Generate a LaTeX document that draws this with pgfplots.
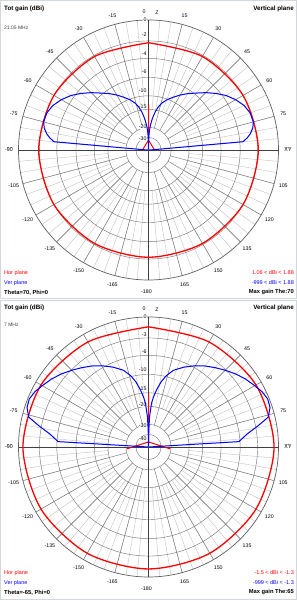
\documentclass[border=0pt]{standalone}
\usepackage{pgfplots}
\pgfplotsset{compat=1.18}
\usepackage{pgfplotstable}
\usepackage{fontspec}
\setmainfont{Liberation Sans}
\definecolor{ringc}{RGB}{120,120,120}
\definecolor{spokec}{RGB}{195,195,195}
\definecolor{redc}{RGB}{255,0,0}
\definecolor{bluec}{RGB}{0,0,255}
\definecolor{framec}{RGB}{210,215,220}

% theta (deg from Z axis, clockwise) and gain on the ARRL log scale (dB)
\pgfplotstableread{
th db
-90 -80
-88 -80
-86.5 -55
-85 -5.4
-83 -4.6
-81 -4.0
-78 -3.4
-75 -3.1
-70 -3.15
-65 -3.6
-60 -4.4
-55 -5.4
-50 -6.7
-45 -8.1
-40 -9.6
-35 -10.9
-30 -12.3
-25 -13.8
-20 -15.3
-16 -16.8
-13 -18.4
-10 -20.8
-8 -23
-6.5 -25
-5 -27.5
-4 -29.5
-3 -32
-2 -36
-1 -45
0 -80
1 -45
2 -36
3 -32
4 -29.5
5 -27.5
6.5 -25
8 -23
10 -20.8
13 -18.4
16 -16.8
20 -15.3
25 -13.8
30 -12.3
35 -10.9
40 -9.6
45 -8.1
50 -6.7
55 -5.4
60 -4.4
65 -3.6
70 -3.15
75 -3.1
78 -3.4
81 -4.0
83 -4.6
85 -5.4
86.5 -55
88 -80
90 -80
}\verTop

\pgfplotstableread{
th db
0 -3.3
30 -3.2
60 -3.0
90 -2.9
120 -3.0
150 -3.2
180 -3.3
210 -3.2
240 -3.0
270 -2.9
300 -3.0
330 -3.2
360 -3.3
}\horTop

\pgfplotstableread{
th db
-90 -52.8
0 -44
0 -18.2
0 -44
90 -52.8
}\horTopC

\pgfplotstableread{
th db
-90 -80
-88 -80
-86.6 -55
-86.6 -6.2
-82.5 -4.6
-79 -2.6
-76 -0.9
-72 -0.3
-68 -0.2
-64 -0.5
-60 -1.0
-55 -1.6
-50 -2.3
-45 -3.1
-40 -3.9
-35 -4.7
-30 -5.6
-24 -6.8
-18 -8.2
-14 -9.8
-11 -11.5
-8 -14
-6 -16
-4 -18.5
-2 -25
-1 -35
0 -80
1 -35
2 -25
4 -18.5
6 -16
8 -14
11 -11.5
14 -9.8
18 -8.2
24 -6.8
30 -5.6
35 -4.7
40 -3.9
45 -3.1
50 -2.3
55 -1.6
60 -1.0
64 -0.5
68 -0.2
72 -0.3
76 -0.9
79 -2.6
82.5 -4.6
86.6 -6.2
86.6 -55
88 -80
90 -80
}\verBot

\pgfplotstableread{
th db
0 -1.35
30 -1.2
60 -0.8
90 -0.6
120 -0.8
150 -1.0
180 -1.1
210 -1.0
240 -0.8
270 -0.6
300 -0.8
330 -1.2
360 -1.35
}\horBot

\pgfplotstableread{
th db
-95 -30.5
0 -55.9
0 -15.1
0 -55.9
95 -30.5
}\horBotC

\newcommand{\polargrid}[2]{%
\begin{scope}[shift={(#1bp,#2bp)}]
  \foreach \a in {0,5,...,355} \draw[spokec, line width=0.4bp] ({90-\a}:0.312*130bp) -- ({90-\a}:130bp);
  \foreach \a in {0,15,...,345} \draw[ringc, line width=0.45bp] ({90-\a}:0.174*130bp) -- ({90-\a}:130bp);
  \foreach \f in {0.839,0.705,0.558,0.417,0.312,0.174,0.097} \draw[ringc, line width=0.45bp] (0,0) circle[radius=\f*130bp];
  \draw[ringc!80!black, line width=0.7bp] (0,0) circle[radius=130bp];
  \draw[black!75, line width=0.5bp] (-130bp,0) -- (130bp,0);
  \draw[black!75, line width=0.5bp] (0,-130bp) -- (0,130bp);
  \foreach \a in {15,30,...,165} {
    \node[font=\fontsize{5.3}{6}\selectfont, inner sep=0pt] at ({90-\a}:139.5bp) {\a};
    \node[font=\fontsize{5.3}{6}\selectfont, inner sep=0pt] at ({90+\a}:139.5bp) {-\a};
  }
  \node[font=\fontsize{5.3}{6}\selectfont, inner sep=0pt, fill=white] at (0:139.5bp) {XY};
  \node[font=\fontsize{5.3}{6}\selectfont, inner sep=0pt, fill=white] at (180:139.5bp) {-90};
  \node[font=\fontsize{5.3}{6}\selectfont, inner sep=0pt] at (-4.5bp,138bp) {0};
  \node[font=\fontsize{5.3}{6}\selectfont, inner sep=0pt] at (8.5bp,137.5bp) {Z};
  \node[font=\fontsize{5.3}{6}\selectfont, inner sep=0pt] at (-2bp,-142bp) {-180};
\end{scope}}

\newcommand{\ringlabels}[3]{% cx, cy, list of (label/radius)
\begin{scope}[shift={(#1bp,#2bp)}]
  \foreach \l/\r in {#3} \node[font=\fontsize{5.3}{6}\selectfont, inner sep=0.3pt, fill=white, anchor=east] at (-1.5bp,\r bp) {\l};
\end{scope}}

\begin{document}
\begin{tikzpicture}
\path[fill=white] (0,0) rectangle (297bp,600bp);
\draw[framec, line width=1bp] (0.5bp,301.5bp) rectangle (296.5bp,599.5bp);
\draw[framec, line width=1bp] (0.5bp,0.5bp) rectangle (296.5bp,299bp);

% ---------- top panel ----------
\polargrid{148.5}{450}
\ringlabels{148.5}{450}{0/130,-2/115,-4/96,-6/78,-10/59,-15/43,-20/23,-30/11}
\begin{axis}[at={(148.5bp,450bp)}, anchor=center, x=130bp, y=130bp,
  xmin=-1.2, xmax=1.2, ymin=-1.2, ymax=1.2, hide axis, clip=false]
\addplot[redc, line width=1.3bp, smooth] table[x expr={exp(0.058266*\thisrow{db})*sin(\thisrow{th})}, y expr={exp(0.058266*\thisrow{db})*cos(\thisrow{th})}] {\horTop};
\addplot[redc, line width=1bp] table[x expr={exp(0.058266*\thisrow{db})*sin(\thisrow{th})}, y expr={exp(0.058266*\thisrow{db})*cos(\thisrow{th})}] {\horTopC};
\addplot[bluec, line width=1bp] table[x expr={exp(0.058266*\thisrow{db})*sin(\thisrow{th})}, y expr={exp(0.058266*\thisrow{db})*cos(\thisrow{th})}] {\verTop};
\end{axis}
\node[anchor=west, font=\bfseries\fontsize{6.3}{7}\selectfont, inner sep=0pt] at (4bp,591bp) {Tot gain (dBi)};
\node[anchor=west, font=\fontsize{5}{6}\selectfont, text=black!75, inner sep=0pt] at (4bp,572bp) {21.05 MHz};
\node[anchor=east, font=\bfseries\fontsize{6.3}{7}\selectfont, inner sep=0pt] at (294bp,591bp) {Vertical plane};
\node[anchor=west, font=\fontsize{5.5}{6}\selectfont, text=redc, inner sep=0pt] at (4bp,327bp) {Hor plane};
\node[anchor=west, font=\fontsize{5.5}{6}\selectfont, text=bluec, inner sep=0pt] at (4bp,317bp) {Ver plane};
\node[anchor=west, font=\bfseries\fontsize{5.8}{6}\selectfont, inner sep=0pt] at (4bp,307.5bp) {Theta=70, Phi=0};
\node[anchor=east, font=\fontsize{5.5}{6}\selectfont, text=redc, inner sep=0pt] at (294bp,327bp) {1.06 < dBi < 1.88};
\node[anchor=east, font=\fontsize{5.5}{6}\selectfont, text=bluec, inner sep=0pt] at (294bp,317bp) {-999 < dBi < 1.88};
\node[anchor=east, font=\bfseries\fontsize{5.8}{6}\selectfont, inner sep=0pt] at (294bp,307.5bp) {Max gain The:70};

% ---------- bottom panel ----------
\polargrid{148.5}{153}
\ringlabels{148.5}{153}{0/130,-3/112,-6/95,-10/77,-15/58,-20/42,-30/21,-40/8}
\begin{axis}[at={(148.5bp,153bp)}, anchor=center, x=130bp, y=130bp,
  xmin=-1.2, xmax=1.2, ymin=-1.2, ymax=1.2, hide axis, clip=false]
\addplot[redc, line width=1.3bp, smooth] table[x expr={exp(0.058266*\thisrow{db})*sin(\thisrow{th})}, y expr={exp(0.058266*\thisrow{db})*cos(\thisrow{th})}] {\horBot};
\addplot[redc, line width=1bp] table[x expr={exp(0.058266*\thisrow{db})*sin(\thisrow{th})}, y expr={exp(0.058266*\thisrow{db})*cos(\thisrow{th})}] {\horBotC};
\addplot[bluec, line width=1bp] table[x expr={exp(0.058266*\thisrow{db})*sin(\thisrow{th})}, y expr={exp(0.058266*\thisrow{db})*cos(\thisrow{th})}] {\verBot};
\end{axis}
\node[anchor=west, font=\bfseries\fontsize{6.3}{7}\selectfont, inner sep=0pt] at (4bp,292bp) {Tot gain (dBi)};
\node[anchor=west, font=\fontsize{5}{6}\selectfont, text=black!75, inner sep=0pt] at (4bp,275bp) {7 MHz};
\node[anchor=east, font=\bfseries\fontsize{6.3}{7}\selectfont, inner sep=0pt] at (294bp,292bp) {Vertical plane};
\node[anchor=west, font=\fontsize{5.5}{6}\selectfont, text=redc, inner sep=0pt] at (4bp,27bp) {Hor plane};
\node[anchor=west, font=\fontsize{5.5}{6}\selectfont, text=bluec, inner sep=0pt] at (4bp,17bp) {Ver plane};
\node[anchor=west, font=\bfseries\fontsize{5.8}{6}\selectfont, inner sep=0pt] at (4bp,7.5bp) {Theta=-65, Phi=0};
\node[anchor=east, font=\fontsize{5.5}{6}\selectfont, text=redc, inner sep=0pt] at (294bp,27bp) {-1.5 < dBi < -1.3};
\node[anchor=east, font=\fontsize{5.5}{6}\selectfont, text=bluec, inner sep=0pt] at (294bp,17bp) {-999 < dBi < -1.3};
\node[anchor=east, font=\bfseries\fontsize{5.8}{6}\selectfont, inner sep=0pt] at (294bp,7.5bp) {Max gain The:65};
\end{tikzpicture}
\end{document}
